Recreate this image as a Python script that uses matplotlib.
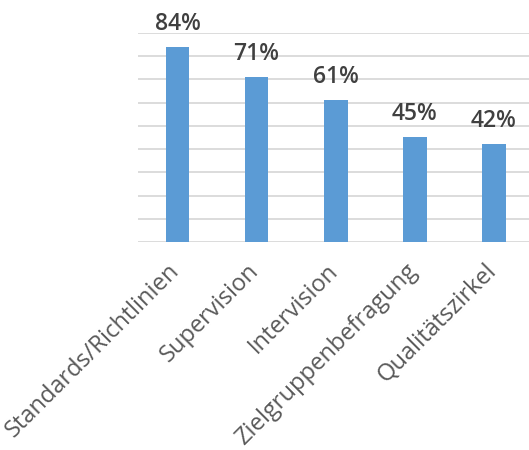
import matplotlib
matplotlib.use("Agg")
from matplotlib import pyplot as plt
from matplotlib.transforms import ScaledTranslation

# data
categories = ["Standards/Richtlinien", "Supervision", "Intervision",
              "Zielgruppenbefragung", "Qualitätszirkel"]
values = [84, 71, 61, 45, 42]

plt.rcParams["font.family"] = ["Open Sans", "DejaVu Sans"]

fig = plt.figure(figsize=(5.29, 4.5), dpi=100)
ax = fig.add_axes([0.261, 0.462, 0.747, 0.465])

x = range(len(categories))
bars = ax.bar(x, values, width=0.30, color="#5B9BD5", zorder=3)

for b, v in zip(bars, values):
    ax.annotate(f"{v}%", (b.get_x() + b.get_width() / 2, v),
                xytext=(0, 8), textcoords="offset points",
                ha="center", va="bottom", fontsize=16.5, fontweight="semibold",
                color="#404040")

ax.set_ylim(0, 90)
ax.set_xlim(-0.5, 4.5)
ax.set_yticks(range(0, 91, 10))
ax.set_yticklabels([])
ax.tick_params(axis="y", length=0)
ax.tick_params(axis="x", length=0, pad=12)
ax.yaxis.grid(True, color="#d9d9d9", linewidth=1.3, zorder=0)
ax.set_xticks(list(x))
ax.set_xticklabels(categories, rotation=45, ha="right",
                   rotation_mode="anchor", fontsize=17, color="#595959")
shift = ScaledTranslation(-7 / 72, 0, fig.dpi_scale_trans)
for lbl in ax.get_xticklabels():
    lbl.set_transform(lbl.get_transform() + shift)
for s in ax.spines.values():
    s.set_visible(False)

fig.savefig("out.png", dpi=100)
